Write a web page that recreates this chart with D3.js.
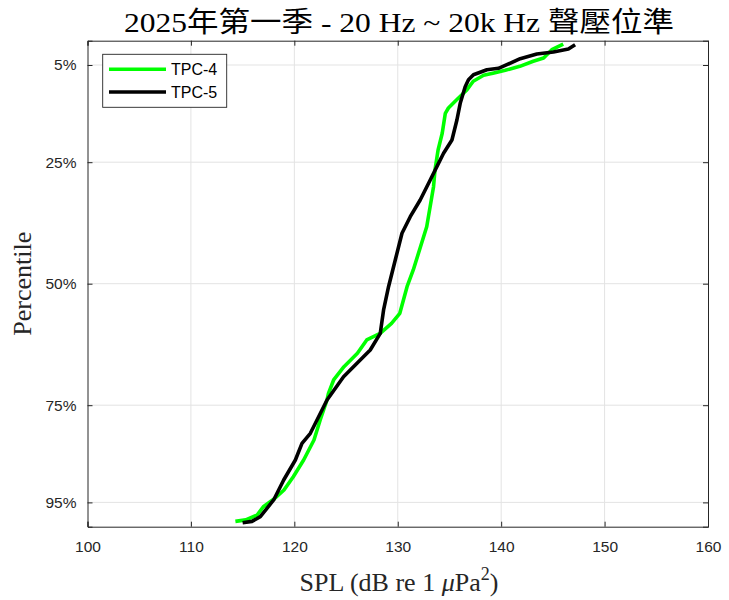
<!DOCTYPE html>
<html><head><meta charset="utf-8">
<script src="https://cdn.jsdelivr.net/npm/d3@7"></script>
<style>body{margin:0;background:#fff}svg{display:block}</style>
</head><body>
<svg id="c" width="729" height="600"></svg>
<script>
const titleText = "2025年第一季 - 20 Hz ~ 20k Hz 聲壓位準";
const xTicks = [100,110,120,130,140,150,160];
const yTicks = [5,25,50,75,95];
const yTickLabels = ["5%","25%","50%","75%","95%"];
const seriesNames = ["TPC-4","TPC-5"];
const seriesColors = ["#00ff00","#000000"];
// [SPL dB, percentile]
const tpc4 = [[146.0,0.7],[144.9,1.85],[144.1,3.56],[143.1,4.24],[141.8,5.27],[140.4,6.09],[139.3,6.65],[138.3,7.12],[137.3,8.35],[136.7,10.08],[135.7,12.14],[134.9,13.85],[134.6,14.94],[134.3,19.05],[133.9,22.49],[133.6,26.6],[133.46,30.04],[132.8,38.27],[132.2,42.39],[131.5,47.18],[130.9,50.62],[130.2,56.09],[129.4,58.15],[128.3,60.21],[127.0,61.58],[126.1,64.32],[124.8,67.08],[123.8,69.81],[123.3,72.55],[123.16,73.93],[122.5,78.05],[121.9,82.16],[120.9,86.28],[119.9,89.71],[119.0,92.45],[118.1,94.2],[117.0,95.9],[116.4,97.6],[115.3,98.6],[114.3,98.9]];
const tpc5 = [[147.15,0.82],[146.5,1.71],[145.05,2.33],[143.45,2.74],[141.84,3.7],[140.55,4.94],[139.74,5.68],[138.62,5.97],[137.32,7.0],[136.84,8.02],[136.52,9.47],[136.04,12.88],[135.72,16.32],[135.24,20.43],[134.43,23.17],[133.94,25.23],[133.14,28.66],[132.17,32.78],[131.21,36.21],[130.41,39.63],[129.76,45.12],[129.11,50.62],[128.63,55.41],[128.31,60.21],[127.34,63.64],[126.06,66.38],[124.76,69.14],[123.16,73.93],[121.55,80.78],[120.74,82.84],[120.1,86.28],[118.97,90.39],[118.0,94.5],[116.71,97.94],[115.9,98.9],[115.0,99.2]];
const seriesData = [tpc4, tpc5];

const svg = d3.select("#c");
const L = 87.5, R = 708, T = 40.7, B = 526.7;
const x = d3.scaleLinear().domain([100,160]).range([L,R]);
const y = d3.scaleLinear().domain([0,100]).range([T,B]);
const axisCol = "#262626";

// grid
const g = svg.append("g");
g.selectAll(".gx").data(xTicks.slice(1,-1)).enter().append("line")
  .attr("x1",d=>x(d)).attr("x2",d=>x(d)).attr("y1",T).attr("y2",B)
  .attr("stroke","#e3e3e3").attr("stroke-width",1);
g.selectAll(".gy").data(yTicks).enter().append("line")
  .attr("y1",d=>y(d)).attr("y2",d=>y(d)).attr("x1",L).attr("x2",R)
  .attr("stroke","#e3e3e3").attr("stroke-width",1);

// axes
const xAxB = d3.axisBottom(x).tickValues(xTicks).tickSize(-5).tickPadding(14).tickFormat(d3.format("d"));
const xAxT = d3.axisTop(x).tickValues(xTicks).tickSize(-5).tickFormat("");
const yAxL = d3.axisLeft(y).tickValues(yTicks).tickSize(-5).tickPadding(11).tickFormat((d,i)=>yTickLabels[i]);
const yAxR = d3.axisRight(y).tickValues(yTicks).tickSize(-5).tickFormat("");
function style(sel){
  sel.select(".domain").attr("stroke",axisCol).attr("stroke-width",1);
  sel.selectAll(".tick line").attr("stroke",axisCol);
  sel.selectAll("text").attr("fill",axisCol).attr("font-family","Liberation Sans, Arial, sans-serif").attr("font-size",15.5);
}
svg.append("g").attr("transform",`translate(0,${B})`).call(xAxB).call(style);
svg.append("g").attr("transform",`translate(0,${T})`).call(xAxT).call(style);
svg.append("g").attr("transform",`translate(${L},0)`).call(yAxL).call(style);
svg.append("g").attr("transform",`translate(${R},0)`).call(yAxR).call(style);

// lines
const line = d3.line().x(d=>x(d[0])).y(d=>y(d[1]));
seriesData.forEach((s,i)=>{
  svg.append("path").datum(s).attr("d",line).attr("fill","none")
    .attr("stroke",seriesColors[i]).attr("stroke-width",3.6)
    .attr("stroke-linejoin","round").attr("stroke-linecap","butt");
});

// legend
const lg = svg.append("g");
lg.append("rect").attr("x",102.7).attr("y",54.3).attr("width",124).attr("height",53)
  .attr("fill","#fff").attr("stroke",axisCol).attr("stroke-width",0.9);
seriesNames.forEach((n,i)=>{
  const yy = 69.3 + i*22.7;
  lg.append("line").attr("x1",109).attr("x2",166).attr("y1",yy).attr("y2",yy)
    .attr("stroke",seriesColors[i]).attr("stroke-width",3.6);
  lg.append("text").attr("x",171).attr("y",yy+5.5).text(n)
    .attr("font-family","Liberation Sans, Arial, sans-serif").attr("font-size",16).attr("fill","#000");
});

// title
svg.append("text").attr("x",399).attr("y",32).attr("text-anchor","middle")
  .attr("font-family","Liberation Serif, 'Noto Sans CJK TC', serif").attr("font-size",28)
  .attr("textLength",550).attr("lengthAdjust","spacingAndGlyphs")
  .attr("fill","#000").text(titleText);

// axis labels
svg.append("text").attr("transform",`translate(31,${(T+B)/2}) rotate(-90)`)
  .attr("text-anchor","middle").attr("font-family","Liberation Serif, serif").attr("font-size",26)
  .attr("fill",axisCol).text("Percentile");
const xl = svg.append("text").attr("x",399).attr("y",591).attr("text-anchor","middle")
  .attr("font-family","Liberation Serif, serif").attr("font-size",26).attr("fill",axisCol);
xl.append("tspan").text("SPL (dB re 1 ");
xl.append("tspan").attr("font-style","italic").text("μ");
xl.append("tspan").text("Pa");
xl.append("tspan").attr("dy",-11).attr("font-size",18).text("2");
xl.append("tspan").attr("dy",11).text(")");
</script>
</body></html>
